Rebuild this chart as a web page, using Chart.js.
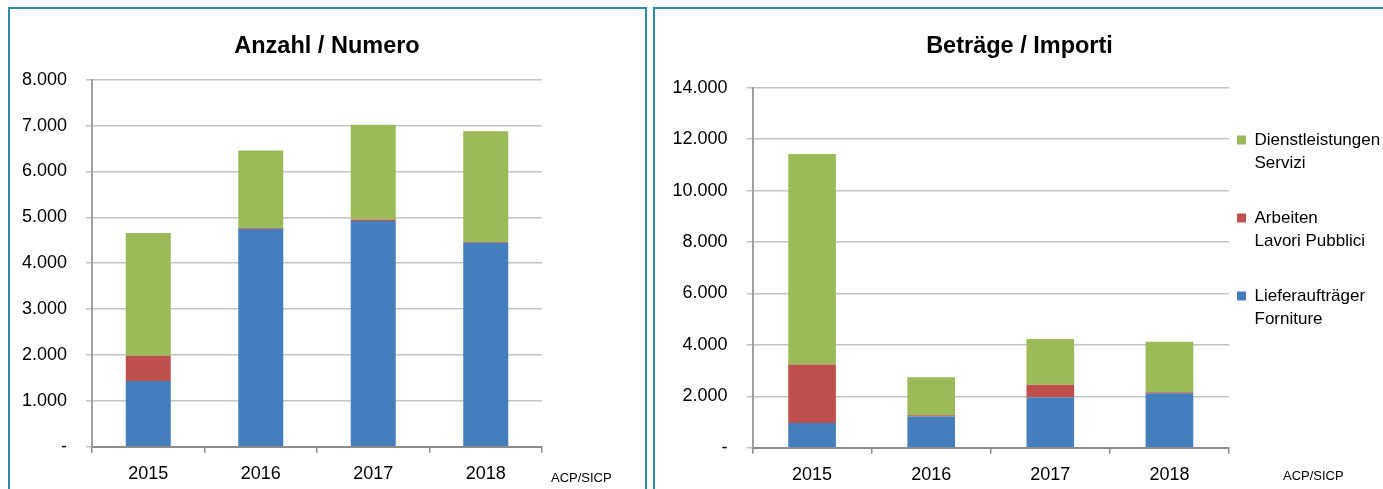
<!DOCTYPE html>
<html>
<head>
<meta charset="utf-8">
<title>Anzahl / Numero - Beträge / Importi</title>
<script src="https://cdn.jsdelivr.net/npm/chart.js@4.4.1/dist/chart.umd.min.js"></script>
<style>
  body { margin: 0; background: #fff; width: 1383px; height: 489px; overflow: hidden; position: relative; }
  .panel { position: absolute; border: 2px solid #2b8aa6; box-sizing: border-box; }
  #panelLeft { left: 8px; top: 7px; width: 639px; height: 500px; }
  #panelRight { left: 653px; top: 7px; width: 740px; height: 500px; }
  canvas { position: absolute; }
  #chartLeft { left: 10px; top: 9px; }
  #chartRight { left: 656px; top: 9px; }
</style>
</head>
<body>
<div class="panel" id="panelLeft"></div>
<div class="panel" id="panelRight"></div>
<canvas id="chartLeft" width="634" height="480"></canvas>
<canvas id="chartRight" width="727" height="480"></canvas>
<script>
'use strict';

let years = ['2015', '2016', '2017', '2018'];
let seriesNames = [
  ['Lieferaufträger', 'Forniture'],
  ['Arbeiten', 'Lavori Pubblici'],
  ['Dienstleistungen', 'Servizi']
];
let seriesColors = ['#447ebd', '#c0504d', '#9bbb59'];

// Anzahl / Numero
let countSupplies = [1430, 4745, 4920, 4448];
let countWorks = [550, 15, 30, 15];
let countServices = [2680, 1695, 2070, 2412];
let countTicks = ['-', '1.000', '2.000', '3.000', '4.000', '5.000', '6.000', '7.000', '8.000'];

// Beträge / Importi
let amountSupplies = [960, 1218, 1957, 2113];
let amountWorks = [2280, 40, 493, 40];
let amountServices = [8180, 1478, 1775, 1970];
let amountTicks = ['-', '2.000', '4.000', '6.000', '8.000', '10.000', '12.000', '14.000'];

const FONT = '"Liberation Sans", Arial, sans-serif';
Chart.defaults.font.family = FONT;
Chart.defaults.color = '#000';

// small "ACP/SICP" source note under the axis
let sourceNote = {
  id: 'sourceNote',
  afterDraw(chart, args, opts) {
    let ctx = chart.ctx;
    ctx.save();
    ctx.font = '13px ' + FONT;
    ctx.fillStyle = '#000';
    ctx.textBaseline = 'middle';
    ctx.fillText('ACP/SICP', opts.x, opts.y);
    ctx.restore();
  }
};

let makeChart = (canvasId, cfg) => {
  let datasets = cfg.values.map((vals, i) => ({
    label: seriesNames[i].join(' / '),
    data: vals,
    backgroundColor: seriesColors[i],
    borderWidth: 0,
    barPercentage: 0.4,
    categoryPercentage: 1
  }));

  let scales = {
    x: {
      stacked: true,
      offset: true,
      grid: { offset: true, drawOnChartArea: false, tickLength: 6, color: '#8c8c8c', lineWidth: 1.5 },
      border: { color: '#8c8c8c', width: 2 },
      ticks: { font: { size: 18 }, padding: 11, color: '#000' },
      afterFit: (scale) => { scale.height = cfg.xHeight; }
    },
    y: {
      stacked: true,
      min: 0,
      max: cfg.max,
      grid: { color: '#c4c4c4', lineWidth: 1.5, tickLength: 6 },
      border: { color: '#a0a0a0', width: 2 },
      ticks: {
        stepSize: cfg.step,
        font: { size: 18 },
        padding: 19,
        color: '#000',
        callback: (value, index) => cfg.tickLabels[index]
      },
      afterFit: (scale) => { scale.width = cfg.yWidth; }
    }
  };
  // empty space on the right (keeps the title centred on the whole panel)
  if (cfg.rightGap) {
    scales.gap = {
      type: 'linear',
      position: 'right',
      grid: { display: false },
      border: { display: false },
      ticks: { display: false },
      afterFit: (scale) => { scale.width = cfg.rightGap; }
    };
  }

  return new Chart(document.getElementById(canvasId), {
    type: 'bar',
    data: { labels: years, datasets },
    plugins: [sourceNote],
    options: {
      responsive: false,
      animation: false,
      layout: { padding: 0 },
      plugins: {
        title: {
          display: true,
          text: cfg.title,
          color: '#000',
          font: { size: 23.5, weight: 'bold' },
          padding: { top: 23.5, bottom: cfg.titleGap }
        },
        legend: cfg.legend ? {
          display: true,
          position: 'right',
          align: 'start',
          reverse: true,
          maxWidth: 154,
          title: { display: true, text: '', font: { size: 12, lineHeight: 1 }, padding: { top: 102.5, bottom: 0 } },
          labels: {
            boxWidth: 9,
            boxHeight: 9,
            padding: 8,
            color: '#000',
            font: { size: 17, lineHeight: 23.33 / 17 },
            generateLabels: (chart) => Chart.defaults.plugins.legend.labels.generateLabels(chart)
              .map(item => Object.assign(item, { text: seriesNames[item.datasetIndex].concat(['']) }))
          }
        } : { display: false },
        tooltip: { enabled: false },
        sourceNote: cfg.note
      },
      scales
    }
  });
};

makeChart('chartLeft', {
  title: 'Anzahl / Numero',
  values: [countSupplies, countWorks, countServices],
  tickLabels: countTicks,
  max: 8000,
  step: 1000,
  titleGap: 70.7 - 23.5 - 28.2,
  yWidth: 82,
  xHeight: 42.3,
  rightGap: 102,
  legend: false,
  note: { x: 541, y: 469 }
});

makeChart('chartRight', {
  title: 'Beträge / Importi',
  values: [amountSupplies, amountWorks, amountServices],
  tickLabels: amountTicks,
  max: 14000,
  step: 2000,
  titleGap: 78.7 - 23.5 - 28.2,
  yWidth: 96.5,
  xHeight: 41.3,
  rightGap: 0,
  legend: true,
  note: { x: 627, y: 467 }
});
</script>
</body>
</html>
